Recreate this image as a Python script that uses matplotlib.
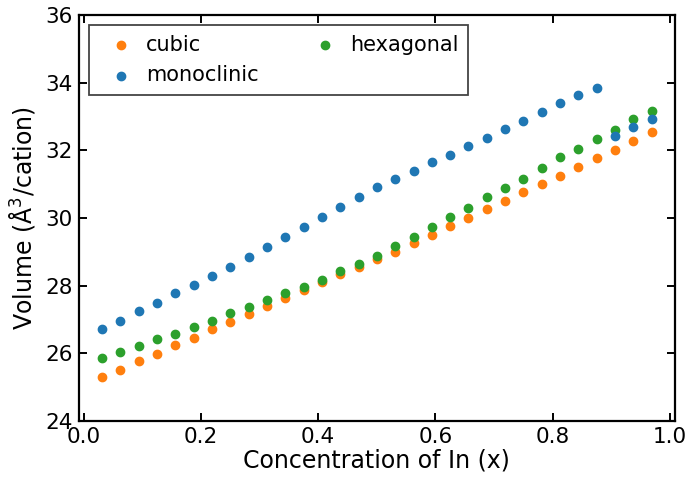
import numpy as np
import matplotlib
matplotlib.use("Agg")
import matplotlib.pyplot as plt

# indium concentration, steps of 1/32
x = np.arange(1, 32) / 32.0

cubic = [25.30, 25.52, 25.78, 25.99, 26.24, 26.45, 26.71, 26.93, 27.16, 27.39,
         27.63, 27.86, 28.11, 28.33, 28.56, 28.79, 29.00, 29.27, 29.50, 29.77,
         29.99, 30.27, 30.50, 30.76, 30.99, 31.24, 31.51, 31.76, 32.01, 32.28,
         32.55]

monoclinic = [26.71, 26.97, 27.24, 27.50, 27.78, 28.03, 28.30, 28.56, 28.85, 29.14,
              29.43, 29.73, 30.03, 30.32, 30.62, 30.91, 31.16, 31.39, 31.65, 31.86,
              32.12, 32.36, 32.63, 32.87, 33.14, 33.39, 33.63, 33.85, 32.41, 32.69,
              32.94]

hexagonal = [25.85, 26.03, 26.22, 26.42, 26.58, 26.78, 26.96, 27.18, 27.38, 27.57,
             27.77, 27.97, 28.18, 28.42, 28.65, 28.88, 29.17, 29.45, 29.74, 30.04,
             30.30, 30.62, 30.90, 31.16, 31.49, 31.80, 32.04, 32.32, 32.61, 32.92,
             33.17]

fig = plt.figure(figsize=(6.86, 4.79), dpi=100)
ax = fig.add_axes([0.1147, 0.1211, 0.8693, 0.8476])

h_cub = ax.scatter(x, cubic, s=36, color="C1", label="cubic", zorder=2)
h_hex = ax.scatter(x, hexagonal, s=36, color="C2", label="hexagonal", zorder=3)
h_mon = ax.scatter(x, monoclinic, s=36, color="C0", label="monoclinic", zorder=4)

ax.set_xlim(-0.0085, 1.0085)
ax.set_ylim(24, 36)
ax.set_xticks(np.arange(0, 1.01, 0.2))
ax.set_yticks(np.arange(24, 36.1, 2))
ax.tick_params(direction="in", top=True, right=True, length=6, width=1.4,
               labelsize=15.5, pad=4.5)
for sp in ax.spines.values():
    sp.set_linewidth(1.6)

ax.set_xlabel("Concentration of In (x)", fontsize=17, labelpad=1)
ax.set_ylabel("Volume (Å$^3$/cation)", fontsize=17, labelpad=6)

leg = ax.legend(handles=[h_cub, h_mon, h_hex], ncol=2, loc="upper left",
                fontsize=15, scatterpoints=1, fancybox=False, framealpha=1,
                edgecolor="#444444", borderpad=0.45, labelspacing=0.5,
                handlelength=2.14, handletextpad=0.15, columnspacing=2.1,
                borderaxespad=0.5)
leg.get_frame().set_linewidth(1.3)

fig.savefig("out.png", dpi=100)
